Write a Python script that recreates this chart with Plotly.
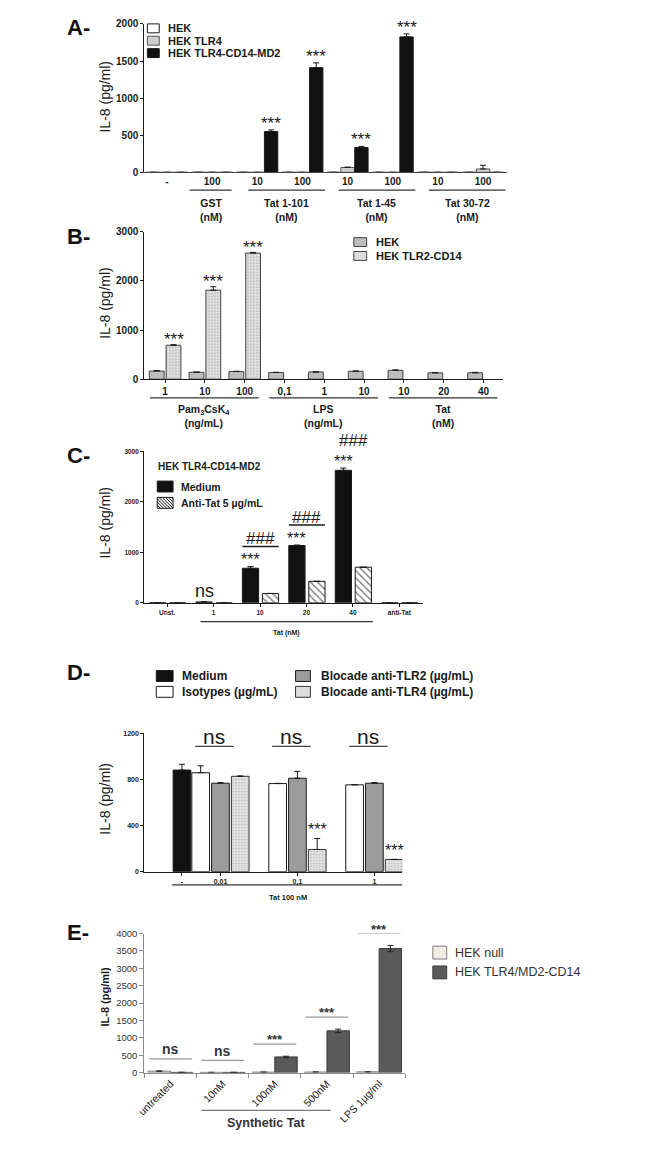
import plotly.graph_objects as go

W, H = 658, 1151
FONT = "Liberation Sans, Arial, sans-serif"
INK = "#1a1a1a"

# ── Panel A data ──────────────────────────────────────────────────────────────
A_CATS = ["-", "100", "10", "100", "10", "100", "10", "100"]
A_GROUPS = ["GST<br>(nM)", "Tat 1-101<br>(nM)", "Tat 1-45<br>(nM)", "Tat 30-72<br>(nM)"]
A_GROUP_SPAN = [(1, 1), (2, 3), (4, 5), (6, 7)]
A_HEK = [0, 0, 0, 0, 0, 0, 0, 0]
A_HEK_ERR = [0, 0, 0, 0, 0, 0, 0, 0]
A_TLR4 = [0, 0, 0, 0, 65, 0, 0, 45]
A_TLR4_ERR = [0, 0, 0, 0, 6, 0, 0, 50]
A_MD2 = [0, 0, 550, 1410, 335, 1825, 0, 0]
A_MD2_ERR = [0, 0, 22, 65, 15, 40, 0, 0]
A_STARS = ["", "", "***", "***", "***", "***", "", ""]
A_YTICKS = [0, 500, 1000, 1500, 2000]

# ── Panel B data ──────────────────────────────────────────────────────────────
B_CATS = ["1", "10", "100", "0,1", "1", "10", "10", "20", "40"]
B_GROUPS = ["Pam<sub>3</sub>CsK<sub>4</sub><br>(ng/mL)", "LPS<br>(ng/mL)", "Tat<br>(nM)"]
B_GROUP_SPAN = [(0, 2), (3, 5), (6, 8)]
B_HEK = [165, 140, 155, 135, 145, 160, 180, 128, 130]
B_HEK_ERR = [8, 5, 6, 5, 5, 6, 8, 8, 8]
B_TLR2 = [690, 1810, 2565, None, None, None, None, None, None]
B_TLR2_ERR = [10, 70, 15, 0, 0, 0, 0, 0, 0]
B_STARS = ["***", "***", "***", "", "", "", "", "", ""]
B_YTICKS = [0, 1000, 2000, 3000]

# ── Panel C data ──────────────────────────────────────────────────────────────
C_CATS = ["Unst.", "1", "10", "20", "40", "anti-Tat"]
C_GROUP = "Tat (nM)"
C_GROUP_SPAN = (1, 4)
C_MEDIUM = [0, 18, 685, 1135, 2625, 0]
C_MEDIUM_ERR = [0, 4, 35, 10, 45, 0]
C_ANTI = [0, 0, 185, 425, 705, 0]
C_ANTI_ERR = [0, 0, 0, 0, 0, 0]
C_STARS = ["", "ns", "***", "***", "***", ""]
C_HASH = ["", "", "###", "###", "###", ""]
C_YTICKS = [0, 1000, 2000, 3000]

# ── Panel D data ──────────────────────────────────────────────────────────────
D_CTRL = "-"
D_GROUPS = ["0,01", "0,1", "1"]
D_GROUP_LABEL = "Tat 100 nM"
D_MEDIUM = [880, None, None]
D_MEDIUM_ERR = [50, 0, 0]
D_ISO = [857, 763, 752]
D_ISO_ERR = [60, 2, 2]
D_TLR2 = [766, 809, 766]
D_TLR2_ERR = [5, 60, 6]
D_TLR4 = [826, 192, 106]
D_TLR4_ERR = [3, 95, 0]
D_NS = ["ns", "ns", "ns"]
D_STARS = ["", "***", "***"]
D_YTICKS = [0, 400, 800, 1200]

# ── Panel E data ──────────────────────────────────────────────────────────────
E_CATS = ["untreated", "10nM", "100nM", "500nM", "LPS 1µg/ml"]
E_GROUP = "Synthetic Tat"
E_GROUP_SPAN = (1, 3)
E_NULL = [40, 5, 12, 15, 20]
E_NULL_ERR = [10, 0, 5, 0, 5]
E_TLR4 = [5, 5, 450, 1200, 3570]
E_TLR4_ERR = [0, 0, 20, 50, 90]
E_SIG = ["ns", "ns", "***", "***", "***"]
E_YTICKS = [0, 500, 1000, 1500, 2000, 2500, 3000, 3500, 4000]


def px(x):
    return x / W


def py(y):
    return 1 - y / H


fig = go.Figure()


def add_bars(x, y, err, name, axes, fill, off, wid, edge=INK, pattern=None,
             sym=False, errcolor=INK):
    fig.add_trace(go.Bar(
        x=x, y=y, name=name, xaxis=axes[0], yaxis=axes[1],
        offset=off, width=wid,
        marker=dict(color=fill, line=dict(color=edge, width=1),
                    pattern=pattern if pattern else dict(shape="")),
        error_y=dict(type="data", array=err, symmetric=sym,
                     arrayminus=None if sym else [0] * len(err),
                     color=errcolor, thickness=1, width=3),
        showlegend=False, hoverinfo="skip",
    ))


def note(text, x, y, xref="paper", yref="paper", size=10, color=INK,
         xanchor="center", yanchor="middle", yshift=0, angle=0):
    fig.add_annotation(text=text, x=x, y=y, xref=xref, yref=yref,
                       showarrow=False, borderpad=0, textangle=angle,
                       font=dict(family=FONT, size=size, color=color),
                       xanchor=xanchor, yanchor=yanchor, yshift=yshift)


def hline(x0, x1, y, xref="paper", yref="paper", color="#333", width=1.3):
    fig.add_shape(type="line", xref=xref, yref=yref, x0=x0, x1=x1, y0=y, y1=y,
                  line=dict(color=color, width=width))


def swatch(x, y, w, h, fill, label, size, bold=True, edge=INK, color=INK, gap=8):
    fig.add_shape(type="rect", xref="paper", yref="paper",
                  x0=px(x), x1=px(x + w), y0=py(y + h / 2), y1=py(y - h / 2),
                  fillcolor=fill, line=dict(color=edge, width=1))
    note(f"<b>{label}</b>" if bold else label, px(x + w + gap), py(y),
         size=size, color=color, xanchor="left")


def hatch_swatch(x, y, w, h, step=3.2):
    top, bot = y - h / 2, y + h / 2
    a = x - h
    while a < x + w:
        sx, sy = a, top
        ex, ey = a + h, bot
        if sx < x:
            sy, sx = top + (x - sx), x
        if ex > x + w:
            ey, ex = top + (x + w - a), x + w
        fig.add_shape(type="line", xref="paper", yref="paper",
                      x0=px(sx), x1=px(ex), y0=py(sy), y1=py(ey),
                      line=dict(color=INK, width=1))
        a += step


def bold(size, color=INK):
    return dict(family=FONT, size=size, color=color, weight="bold")


def axis(domain, rng, anchor, **kw):
    d = dict(domain=domain, range=rng, anchor=anchor, showline=True,
             linecolor=INK, linewidth=1.3, ticks="outside", ticklen=3,
             tickwidth=1.2, tickcolor=INK, showgrid=False, zeroline=False,
             fixedrange=True, tickmode="array")
    d.update(kw)
    return d


# ── Panel A ───────────────────────────────────────────────────────────────────
xa = list(range(len(A_CATS)))
AW = 0.296
A_OFF = {"hek": -0.454, "tlr4": -0.148, "md2": 0.158}
add_bars(xa, A_HEK, A_HEK_ERR, "HEK", ("x", "y"), "#ffffff", A_OFF["hek"], AW)
add_bars(xa, A_TLR4, A_TLR4_ERR, "HEK TLR4", ("x", "y"), "#cfcfcf", A_OFF["tlr4"], AW, edge="#555")
add_bars(xa, A_MD2, A_MD2_ERR, "HEK TLR4-CD14-MD2", ("x", "y"), "#111111", A_OFF["md2"], AW)
for i, s in enumerate(A_STARS):
    if s:
        note(s, i + A_OFF["md2"] + AW / 2, A_MD2[i] + A_MD2_ERR[i], "x", "y",
             size=17, yanchor="bottom", yshift=-3.7)
for label, (a, b) in zip(A_GROUPS, A_GROUP_SPAN):
    x0, x1 = (a - 0.5, b + 0.43) if a == b else (a - 0.2, b + 0.5)
    hline(x0, x1, py(178), xref="x")
    note(f"<b>{label}</b>", (x0 + x1) / 2, py(184.3), "x", "paper", size=10.5, yanchor="top")
swatch(133, 14.5, 12, 9, "#ffffff", "HEK", 11)
swatch(133, 27, 12, 9, "#cfcfcf", "HEK TLR4", 11, edge="#555")
swatch(133, 39.5, 12, 9, "#111111", "HEK TLR4-CD14-MD2", 11)

# ── Panel B ───────────────────────────────────────────────────────────────────
xb = list(range(len(B_CATS)))
BW = 0.372
B_OFF = {"hek": -0.397, "tlr2": 0.025}
DOTS = dict(shape=".", fgcolor="#7a7a7a", bgcolor="#e6e6e6", size=3, solidity=0.3)
add_bars(xb, B_HEK, B_HEK_ERR, "HEK", ("x2", "y2"), "#bdbdbd", B_OFF["hek"], BW, edge="#444")
add_bars(xb, B_TLR2, B_TLR2_ERR, "HEK TLR2-CD14", ("x2", "y2"), "#e6e6e6", B_OFF["tlr2"], BW,
         edge="#444", pattern=DOTS)
for i, s in enumerate(B_STARS):
    if s:
        note(s, i + B_OFF["tlr2"] + BW / 2, B_TLR2[i] + B_TLR2_ERR[i], "x2", "y2",
             size=17, yanchor="bottom", yshift=-5.2)
for label, (a, b) in zip(B_GROUPS, B_GROUP_SPAN):
    x0, x1 = a - 0.38, b + 0.35
    hline(x0, x1, py(388), xref="x2")
    note(f"<b>{label}</b>", (x0 + x1) / 2, py(392.3), "x2", "paper", size=10.5, yanchor="top")
swatch(342, 230.5, 13, 9, "#bdbdbd", "HEK", 11, edge="#444")
swatch(342, 244.5, 13, 9, "#dcdcdc", "HEK TLR2-CD14", 11, edge="#444")

# ── Panel C ───────────────────────────────────────────────────────────────────
xc = list(range(len(C_CATS)))
CW = 0.35
C_OFF = {"medium": -0.38, "anti": 0.05}
HATCH = dict(shape="\\", fgcolor="#111111", bgcolor="#ffffff", size=5, solidity=0.3)
add_bars(xc, C_MEDIUM, C_MEDIUM_ERR, "Medium", ("x3", "y3"), "#111111", C_OFF["medium"], CW)
add_bars(xc, C_ANTI, C_ANTI_ERR, "Anti-Tat 5 µg/mL", ("x3", "y3"), "#ffffff", C_OFF["anti"], CW,
         pattern=HATCH)
for i, s in enumerate(C_STARS):
    if not s:
        continue
    top = C_MEDIUM[i] + C_MEDIUM_ERR[i]
    xm = i + C_OFF["medium"] + CW / 2
    if s == "ns":
        note(s, xm, top, "x3", "y3", size=18, yanchor="bottom", yshift=-0.5)
    else:
        note(s, xm, top, "x3", "y3", size=16, yanchor="bottom", yshift=-2.6)
    if C_HASH[i]:
        x0, x1 = i + C_OFF["medium"], i + C_OFF["anti"] + CW
        fig.add_shape(type="line", xref="x3", yref="y3", ysizemode="pixel", yanchor=top,
                      x0=x0, x1=x1, y0=20, y1=20, line=dict(color=INK, width=1.4))
        note(C_HASH[i], (x0 + x1) / 2, top, "x3", "y3", size=17, yanchor="bottom", yshift=17.4)
a, b = C_GROUP_SPAN
hline(a - 0.28, b + 0.43, py(614), xref="x3")
note(f"<b>{C_GROUP}</b>", (a - 0.28 + b + 0.43) / 2, py(620), "x3", "paper", size=7, yanchor="top")
note("<b>HEK TLR4-CD14-MD2</b>", px(143), py(457), size=10, xanchor="left")
swatch(143, 477.5, 16, 11, "#111111", "Medium", 10.5, gap=7)
fig.add_shape(type="rect", xref="paper", yref="paper", x0=px(143), x1=px(159),
              y0=py(499.5), y1=py(488.5), fillcolor="#ffffff", line=dict(color=INK, width=1))
hatch_swatch(143, 494, 16, 11)
note("<b>Anti-Tat 5 µg/mL</b>", px(166), py(494), size=10.5, xanchor="left")

# ── Panel D ───────────────────────────────────────────────────────────────────
xd = list(range(len(D_GROUPS)))
DW = 0.23
D_OFF = {"medium": -0.487, "iso": -0.244, "tlr2": 0.013, "tlr4": 0.27}
DOTS_D = dict(shape=".", fgcolor="#8a8a8a", bgcolor="#e8e8e8", size=3, solidity=0.3)
add_bars(xd, D_MEDIUM, D_MEDIUM_ERR, "Medium", ("x4", "y4"), "#111111", D_OFF["medium"], DW)
add_bars(xd, D_ISO, D_ISO_ERR, "Isotypes", ("x4", "y4"), "#ffffff", D_OFF["iso"], DW)
add_bars(xd, D_TLR2, D_TLR2_ERR, "Blocade anti-TLR2", ("x4", "y4"), "#9c9c9c", D_OFF["tlr2"], DW)
add_bars(xd, D_TLR4, D_TLR4_ERR, "Blocade anti-TLR4", ("x4", "y4"), "#e8e8e8", D_OFF["tlr4"], DW,
         pattern=DOTS_D, edge="#333")
D_NS_Y = 1085
for g, s in enumerate(D_NS):
    c = g + 0.05
    hline(c - 0.25, c + 0.25, D_NS_Y, xref="x4", yref="y4", color="#444", width=1.4)
    note(s, c, D_NS_Y, "x4", "y4", size=21, yanchor="bottom", yshift=-2.9)
for g, s in enumerate(D_STARS):
    if s:
        note(s, g + D_OFF["tlr4"] + DW / 2, D_TLR4[g] + D_TLR4_ERR[g], "x4", "y4",
             size=16, yanchor="bottom", yshift=-0.5)
d_tickvals = [D_OFF["medium"] + DW / 2] + [g + D_OFF["tlr2"] + DW / 2 for g in xd]
hline(-0.5, 2.51, py(880), xref="x4")
note(f"<b>{D_GROUP_LABEL}</b>", 1.0, py(887), "x4", "paper", size=7.5, yanchor="top")
swatch(142, 669, 17, 11, "#111111", "Medium", 12)
swatch(142, 685, 17, 11, "#ffffff", "Isotypes (µg/mL)", 12)
swatch(283, 669, 15, 11, "#9c9c9c", "Blocade anti-TLR2 (µg/mL)", 12, gap=10)
swatch(283, 685, 15, 11, "#dedede", "Blocade anti-TLR4 (µg/mL)", 12, gap=10, edge="#333")

# ── Panel E ───────────────────────────────────────────────────────────────────
EW = 0.43
E_OFF = {"null": -0.43, "tlr4": 0.0}
add_bars(E_CATS, E_NULL, E_NULL_ERR, "HEK null", ("x5", "y5"), "#f0ede4", E_OFF["null"], EW,
         edge="#7a7a7a", sym=True, errcolor="#333")
add_bars(E_CATS, E_TLR4, E_TLR4_ERR, "HEK TLR4/MD2-CD14", ("x5", "y5"), "#5a5a5a", E_OFF["tlr4"], EW,
         edge="#3a3a3a", sym=True, errcolor="#222")
for i, s in enumerate(E_SIG):
    top = max(E_NULL[i] + E_NULL_ERR[i], E_TLR4[i] + E_TLR4_ERR[i])
    fig.add_shape(type="line", xref="x5", yref="y5", ysizemode="pixel", yanchor=top,
                  x0=i - 0.41, x1=i + 0.41, y0=12, y1=12, line=dict(color="#9a9a9a", width=1.3))
    if s == "ns":
        note("<b>ns</b>", i, top, "x5", "y5", size=14, color="#333", yanchor="bottom", yshift=12.4)
    else:
        note("<b>***</b>", i, top, "x5", "y5", size=13, color="#333", yanchor="bottom", yshift=7.9)
a, b = E_GROUP_SPAN
hline(a - 0.41, b + 0.07, py(1108), xref="x5", color="#777", width=1.2)
note(f"<b>{E_GROUP}</b>", (a - 0.41 + b + 0.07) / 2, py(1112.2), "x5", "paper",
     size=12.5, color="#333", yanchor="top")
swatch(422, 948.5, 14, 13, "#f0ede4", "HEK null", 12.5, bold=False, edge="#7a7a7a", color="#333", gap=7)
swatch(422, 968.5, 14, 13, "#5a5a5a", "HEK TLR4/MD2-CD14", 12.5, bold=False, edge="#3a3a3a",
       color="#333", gap=7)

# ── Axis titles and panel letters ─────────────────────────────────────────────
for yc, size, heavy in [(83.5, 14, False), (292, 14, False), (514, 14, False),
                        (793, 14, False), (993, 11, True)]:
    t = "IL-8 (pg/ml)"
    note(f"<b>{t}</b>" if heavy else t, px(90), py(yc), size=size, angle=-90)
for letter, yc in [("A-", 14), ("B-", 225), ("C-", 446), ("D-", 665), ("E-", 928)]:
    note(f"<b>{letter}</b>", px(51), py(yc), size=22, color="#111", xanchor="left")

# ── Layout ────────────────────────────────────────────────────────────────────
E_GREY = "#8c8c8c"
fig.update_layout(
    width=W, height=H,
    margin=dict(l=0, r=0, t=0, b=0),
    paper_bgcolor="#ffffff", plot_bgcolor="#ffffff",
    barmode="overlay", showlegend=False,
    font=dict(family=FONT, color=INK),
    xaxis=axis([px(130), px(497)], [-0.5, 7.53], "y", ticklen=0, linecolor="#444",
               tickvals=xa, ticktext=A_CATS, tickfont=bold(10)),
    yaxis=axis([py(160), py(10)], [0, 2000], "x",
               tickvals=A_YTICKS, tickfont=bold(10)),
    xaxis2=axis([px(130), px(493)], [-0.52, 8.49], "y2",
                tickvals=xb, ticktext=B_CATS, tickfont=bold(10)),
    yaxis2=axis([py(369), py(220)], [0, 3000], "x2",
                tickvals=B_YTICKS, tickfont=bold(10)),
    xaxis3=axis([px(130), px(412)], [-0.49, 5.51], "y3",
                tickvals=xc, ticktext=C_CATS, tickfont=bold(6.5)),
    yaxis3=axis([py(595), py(442)], [0, 3000], "x3",
                tickvals=C_YTICKS, tickfont=bold(6.5)),
    xaxis4=axis([px(130), px(391)], [-0.86, 2.49], "y4",
                tickvals=d_tickvals, ticktext=[D_CTRL] + D_GROUPS, tickfont=bold(7)),
    yaxis4=axis([py(866.7), py(726.7)], [0, 1200], "x4",
                tickvals=D_YTICKS, tickfont=bold(7)),
    xaxis5=dict(domain=[px(130), px(394)], range=[-0.5, 4.5], anchor="y5", type="category",
                showline=True, linecolor=E_GREY, linewidth=1.2, ticks="outside", ticklen=4,
                tickcolor=E_GREY, tickson="boundaries", tickangle=-45, showgrid=False,
                zeroline=False, fixedrange=True,
                tickfont=dict(family=FONT, size=10.5, color="#222")),
    yaxis5=dict(domain=[py(1069.7), py(929.3)], range=[0, 4000], anchor="x5",
                showline=True, linecolor=E_GREY, linewidth=1.2, ticks="outside", ticklen=4,
                tickcolor=E_GREY, tickmode="array", tickvals=E_YTICKS, showgrid=False,
                zeroline=False, fixedrange=True,
                tickfont=dict(family=FONT, size=9.5, color="#333")),
)

fig.write_html("out.html")
